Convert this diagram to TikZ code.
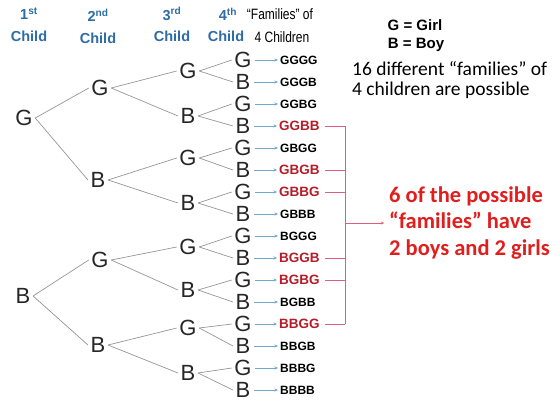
\documentclass[tikz,border=0pt]{standalone}
\usepackage{fontspec}
\setmainfont{Liberation Sans}
\newfontfamily\calibri{Carlito}
\usetikzlibrary{arrows.meta,calc}

\definecolor{headblue}{RGB}{46,108,166}
\definecolor{treegray}{RGB}{150,150,150}
\definecolor{arrowblue}{RGB}{110,170,205}
\definecolor{pairred}{RGB}{180,28,40}
\definecolor{bracketpink}{RGB}{225,95,125}
\definecolor{notered}{RGB}{225,30,30}

\tikzset{
  head/.style={text=headblue, font=\fontsize{14.5}{16}\selectfont\bfseries, inner sep=0pt},
  letter/.style={font=\fontsize{22}{24}\selectfont, inner sep=2.5pt, text=black!85},
  branch/.style={draw=treegray, line width=0.7pt},
  family/.style={anchor=west, inner sep=1pt, font=\fontsize{12}{13}\selectfont\bfseries},
  mixed/.style={family, text=pairred, font=\fontsize{13.5}{15}\selectfont\bfseries},
  pointer/.style={draw=arrowblue, line width=0.6pt, -{Stealth[length=3.5pt,width=3pt]}},
  bracket/.style={draw=bracketpink, line width=0.8pt},
}

\begin{document}
\begin{tikzpicture}[x=1pt,y=-1pt]
\useasboundingbox (0,0) rectangle (560,401);

% column headings
\node[head] (h1a) at (29,14) {1\textsuperscript{st}};
\node[head] (h1b) at (29,36) {Child};
\node[head] (h2a) at (98,15) {2\textsuperscript{nd}};
\node[head] (h2b) at (98,38) {Child};
\node[head] (h3a) at (172,14) {3\textsuperscript{rd}};
\node[head] (h3b) at (172,36) {Child};
\node[head] (h4a) at (228,14) {4\textsuperscript{th}};
\node[head] (h4b) at (226,36) {Child};
\node[inner sep=0pt, font=\fontsize{15}{17}\selectfont] (fa) at (280,14) {\scalebox{0.8}[1]{“Families” of}};
\node[inner sep=0pt, font=\fontsize{15}{17}\selectfont] (fb) at (282,37) {\scalebox{0.8}[1]{4 Children}};

% key
\node[inner sep=0pt, font=\fontsize{15}{17}\selectfont\bfseries] (kg) at (415,25) {G = Girl};
\node[inner sep=0pt, font=\fontsize{15}{17}\selectfont\bfseries] (kb) at (416,45) {B = Boy};
\node[inner sep=0pt, anchor=west, align=left, font=\calibri\fontsize{19.5}{20}\selectfont] (count) at (352,80)
  {16 different “families” of\\4 children are possible};

% first child
\node[letter] (a0) at (24,118) {G};
\node[letter] (a1) at (23,296) {B};

% second child
\node[letter] (b0) at (100,88) {G};
\node[letter] (b1) at (98,180) {B};
\node[letter] (b2) at (100,260) {G};
\node[letter] (b3) at (98,345) {B};

% third child
\foreach \i/\y/\t in {0/71/G,1/116/B,2/158/G,3/203/B,4/247/G,5/290/B,6/328/G,7/373/B}
  \node[letter] (c\i) at (188,\y) {\t};

% fourth child
\foreach \i/\t in {0/G,1/B,2/G,3/B,4/G,5/B,6/G,7/B,8/G,9/B,10/G,11/B,12/G,13/B,14/G,15/B}
  \node[letter] (d\i) at (243,{60+22*\i}) {\t};

% branches
\draw[branch] (a0.east) -- (b0.west);
\draw[branch] (a0.east) -- (b1.west);
\draw[branch] (a1.east) -- (b2.west);
\draw[branch] (a1.east) -- (b3.west);
\foreach \p/\u/\v in {0/0/1,1/2/3,2/4/5,3/6/7} {
  \draw[branch] (b\p.east) -- (c\u.west);
  \draw[branch] (b\p.east) -- (c\v.west);
}
\foreach \p/\u/\v in {0/0/1,1/2/3,2/4/5,3/6/7,4/8/9,5/10/11,6/12/13,7/14/15} {
  \draw[branch] (c\p.east) -- (d\u.west);
  \draw[branch] (c\p.east) -- (d\v.west);
}

% resulting families
\foreach \i/\w in {0/GGGG,1/GGGB,2/GGBG,4/GBGG,7/GBBB,8/BGGG,11/BGBB,13/BBGB,14/BBBG,15/BBBB}
  \node[family] (f\i) at (279,{60+22*\i}) {\w};
\foreach \i/\w in {3/GGBB,5/GBGB,6/GBBG,9/BGGB,10/BGBG,12/BBGG}
  \node[mixed] (f\i) at (278,{60+22*\i}) {\w};
\foreach \i in {0,...,15}
  \draw[pointer] ([xshift=1pt]d\i.east) -- ([xshift=-1pt]f\i.west);

% bracket gathering the two-boy, two-girl families
\coordinate (bartop) at (345,126);
\coordinate (barbot) at (345,324);
\coordinate (barmid) at (345,223);
\draw[bracket] (bartop) -- (barbot);
\foreach \i in {3,5,6,9,10,12}
  \draw[bracket] ([xshift=4pt]f\i.east) -- (f\i.east -| bartop);

\node[inner sep=0pt, anchor=west, align=left, text=notered,
      font=\calibri\fontsize{22.5}{26.5}\selectfont\bfseries] (note) at (389,223)
  {6 of the possible\\“families” have\\2 boys and 2 girls};
\draw[draw=bracketpink, line width=0.8pt, -{Stealth[length=3pt,width=3pt]}] (barmid) -- ([xshift=-5pt]note.west);
\end{tikzpicture}
\end{document}
